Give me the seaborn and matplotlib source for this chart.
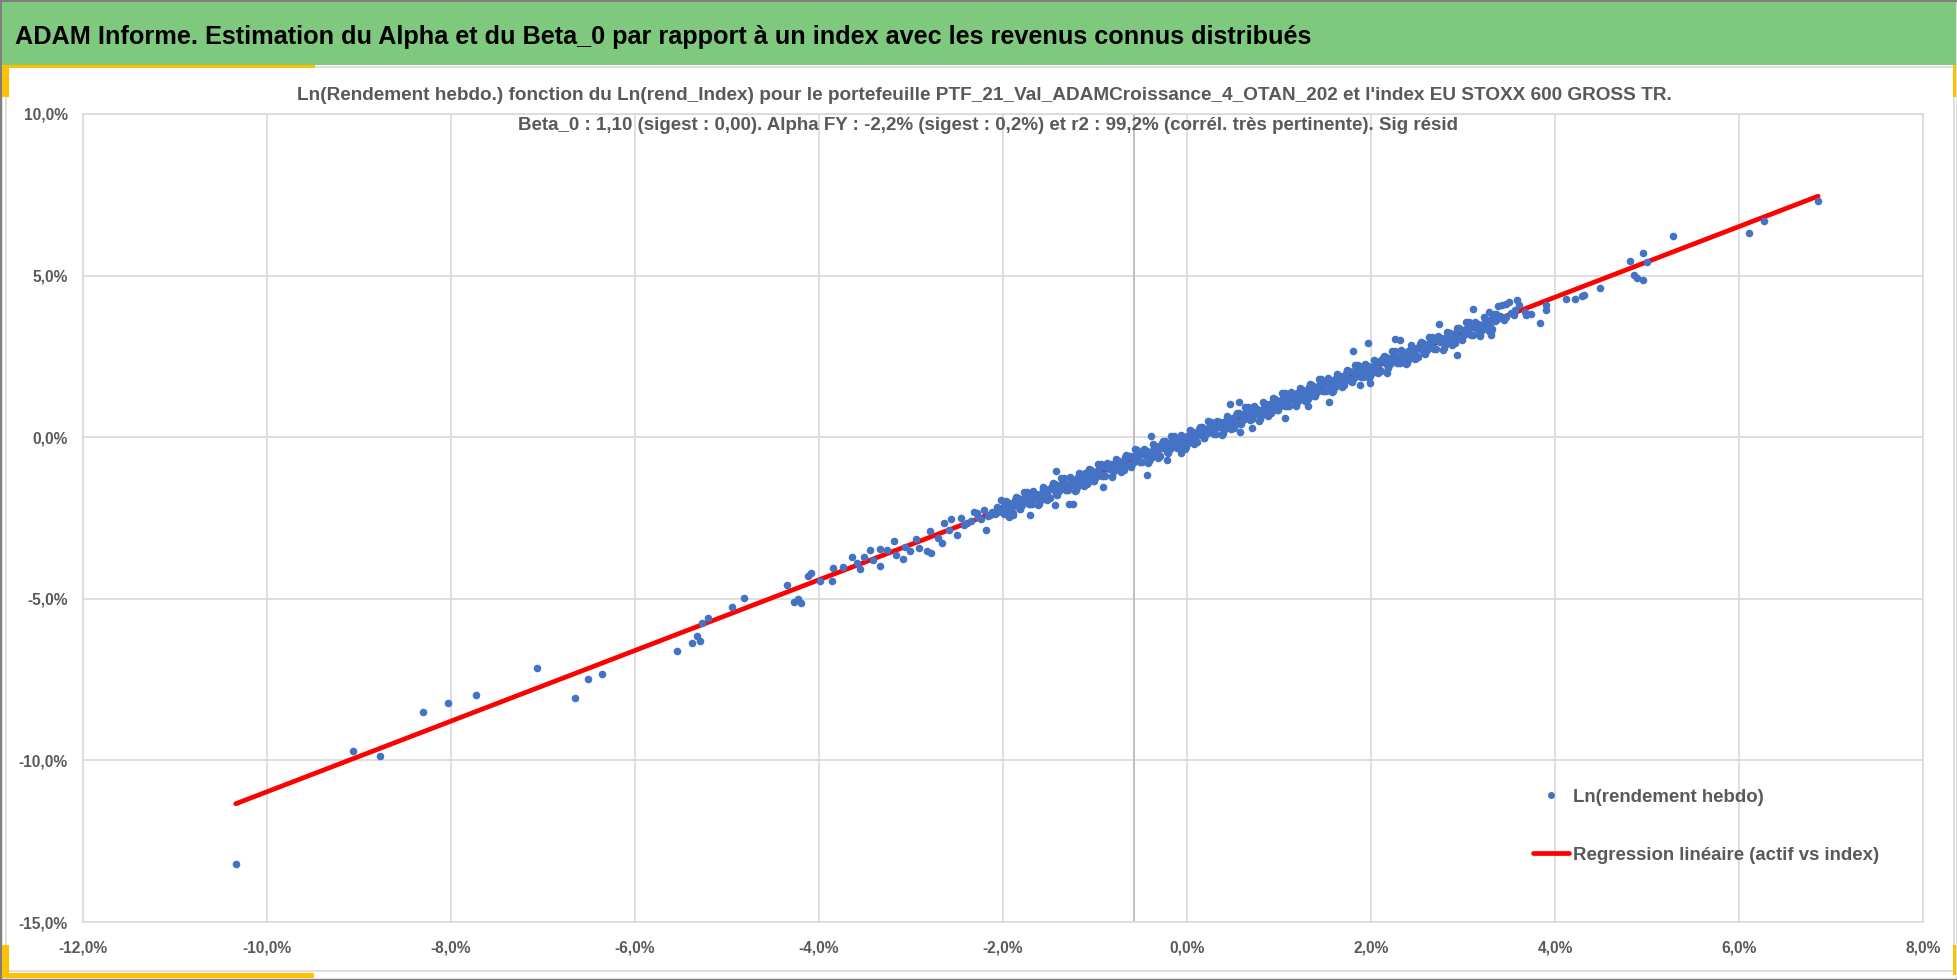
import matplotlib
matplotlib.use("Agg")
import matplotlib.pyplot as plt
import seaborn as sns
from matplotlib import font_manager
from matplotlib.patches import Rectangle
from matplotlib.lines import Line2D

# Rendements hebdo (en %) : index (x) et portefeuille (y), lus sur le graphique
# queue basse
index_bas = [-10.34, -9.07, -8.77, -8.30, -8.03, -7.73, -7.06, -6.65, -6.51, -6.36,
             -5.54, -5.38, -5.33, -5.29, -5.27, -5.21, -4.95, -4.82, -4.35, -4.27,
             -4.23, -4.20, -4.12, -4.09, -3.99, -3.86, -3.85, -3.74, -3.64, -3.59,
             -3.55, -3.51, -3.45, -3.41, -3.34, -3.34, -3.26, -3.18, -3.16, -3.09,
             -3.06, -3.01, -2.95, -2.91, -2.83, -2.78, -2.79, -2.71, -2.66, -2.64,
             -2.59, -2.56, -2.50, -2.46, -2.39, -2.32, -2.27, -2.21, -2.18, -2.14,
             -2.06, -2.02, -2.24, -2.12, -2.09, -2.35, -2.42, -2.28, -2.16, -2.05]
actif_bas = [-13.20, -9.70, -9.85, -8.49, -8.21, -7.99, -7.13, -8.06, -7.48, -7.33,
             -6.63, -6.36, -6.15, -6.32, -5.74, -5.60, -5.26, -4.99, -4.56, -5.10,
             -5.02, -5.12, -4.28, -4.20, -4.44, -4.44, -4.06, -4.02, -3.70, -3.89,
             -4.09, -3.70, -3.50, -3.80, -3.98, -3.46, -3.49, -3.20, -3.64, -3.78,
             -3.39, -3.52, -3.16, -3.42, -3.52, -3.57, -2.89, -3.13, -3.28, -2.66,
             -2.86, -2.53, -3.03, -2.50, -2.64, -2.31, -2.47, -2.26, -2.87, -2.41,
             -2.15, -1.95, -2.52, -2.30, -2.38, -2.60, -2.72, -2.36, -2.44, -2.32]

# coeur du nuage
index_coeur = [-2.00, -1.95, -1.90, -1.85, -1.80, -1.75, -1.70, -1.65, -1.60, -1.55,
               -1.50, -1.45, -1.40, -1.35, -1.30, -1.25, -1.20, -1.15, -1.10, -1.05,
               -1.00, -0.95, -0.90, -0.85, -0.80, -0.75, -0.70, -0.65, -0.60, -0.55,
               -0.50, -0.45, -0.40, -0.35, -0.30, -0.25, -0.20, -0.15, -0.10, -0.05,
               0.00, 0.05, 0.10, 0.15, 0.20, 0.25, 0.30, 0.35, 0.40, 0.45,
               0.50, 0.55, 0.60, 0.65, 0.70, 0.75, 0.80, 0.85, 0.90, 0.95,
               1.00, 1.05, 1.10, 1.15, 1.20, 1.25, 1.30, 1.35, 1.40, 1.45,
               1.50, 1.55, 1.60, 1.65, 1.70, 1.75, 1.80, 1.85, 1.90, 1.95,
               2.00, 2.05, 2.10, 2.15, 2.20, 2.25, 2.30, 2.35, 2.40, 2.45,
               2.50, 2.55, 2.60, 2.65, 2.70, 2.75, 2.80, 2.85, 2.90, 2.95,
               3.00, 3.05, 3.10, 3.15, 3.20, 3.25, 3.30, 3.35, 3.40]
actif_coeur = [-2.17, -2.22, -2.10, -2.14, -1.92, -1.97, -1.84, -1.89, -1.77, -1.81,
               -1.59, -1.64, -1.51, -1.57, -1.44, -1.49, -1.26, -1.32, -1.18, -1.24,
               -1.11, -1.16, -0.93, -0.99, -0.85, -0.91, -0.79, -0.83, -0.61, -0.66,
               -0.53, -0.58, -0.46, -0.50, -0.28, -0.33, -0.20, -0.25, -0.13, -0.17,
               0.05, -0.01, 0.13, 0.07, 0.20, 0.15, 0.38, 0.32, 0.46, 0.40,
               0.53, 0.48, 0.71, 0.65, 0.79, 0.73, 0.85, 0.81, 1.03, 0.98,
               1.11, 1.06, 1.18, 1.14, 1.36, 1.31, 1.44, 1.39, 1.51, 1.47,
               1.69, 1.63, 1.77, 1.71, 1.84, 1.79, 2.02, 1.96, 2.10, 2.04,
               2.17, 2.12, 2.35, 2.29, 2.43, 2.37, 2.49, 2.45, 2.67, 2.62,
               2.75, 2.70, 2.82, 2.78, 3.00, 2.95, 3.08, 3.03, 3.15, 3.10,
               3.33, 3.27, 3.41, 3.35, 3.48, 3.43, 3.66, 3.60, 3.74]

# bord du nuage
index_bande = [-1.97, -1.92, -1.87, -1.82, -1.77, -1.72, -1.67, -1.62, -1.57, -1.52,
               -1.47, -1.42, -1.37, -1.32, -1.27, -1.22, -1.17, -1.12, -1.07, -1.02,
               -0.97, -0.92, -0.87, -0.82, -0.77, -0.72, -0.67, -0.62, -0.57, -0.52,
               -0.47, -0.42, -0.37, -0.32, -0.27, -0.22, -0.17, -0.12, -0.07, -0.02,
               0.03, 0.08, 0.13, 0.18, 0.23, 0.28, 0.33, 0.38, 0.43, 0.48,
               0.53, 0.58, 0.63, 0.68, 0.73, 0.78, 0.83, 0.88, 0.93, 0.98,
               1.03, 1.08, 1.13, 1.18, 1.23, 1.28, 1.33, 1.38, 1.43, 1.48,
               1.53, 1.58, 1.63, 1.68, 1.73, 1.78, 1.83, 1.88, 1.93, 1.98,
               2.03, 2.08, 2.13, 2.18, 2.23, 2.28, 2.33, 2.38, 2.43, 2.48,
               2.53, 2.58, 2.63, 2.68, 2.73, 2.78, 2.83, 2.88, 2.93, 2.98,
               3.03, 3.08, 3.13, 3.18, 3.23, 3.28]
actif_bande = [-1.97, -2.39, -1.93, -2.21, -1.69, -2.06, -1.68, -2.11, -1.54, -1.95,
               -1.50, -1.77, -1.26, -1.62, -1.24, -1.67, -1.10, -1.51, -1.06, -1.34,
               -0.82, -1.19, -0.80, -1.24, -0.66, -1.08, -0.62, -0.90, -0.38, -0.75,
               -0.36, -0.80, -0.22, -0.64, -0.19, -0.46, 0.05, -0.31, 0.07, -0.36,
               0.21, -0.20, 0.25, -0.02, 0.49, 0.13, 0.51, 0.08, 0.65, 0.24,
               0.69, 0.41, 0.93, 0.56, 0.95, 0.51, 1.09, 0.67, 1.13, 0.85,
               1.37, 1.00, 1.39, 0.95, 1.52, 1.11, 1.56, 1.29, 1.80, 1.44,
               1.82, 1.39, 1.96, 1.55, 2.00, 1.73, 2.24, 1.88, 2.26, 1.82,
               2.40, 1.98, 2.44, 2.16, 2.68, 2.31, 2.70, 2.26, 2.84, 2.42,
               2.88, 2.60, 3.11, 2.75, 3.13, 2.70, 3.27, 2.86, 3.31, 3.04,
               3.55, 3.19, 3.57, 3.14, 3.71, 3.30]

index_dense_a = [-1.99, -1.94, -1.89, -1.84, -1.79, -1.74, -1.69, -1.64, -1.59, -1.54,
                 -1.49, -1.44, -1.39, -1.34, -1.29, -1.24, -1.19, -1.14, -1.09, -1.04,
                 -0.99, -0.94, -0.89, -0.84, -0.79, -0.74, -0.69, -0.64, -0.59, -0.54,
                 -0.49, -0.44, -0.39, -0.34, -0.29, -0.24, -0.19, -0.14, -0.09, -0.04,
                 0.01, 0.06, 0.11, 0.16, 0.21, 0.26, 0.31, 0.36, 0.41, 0.46,
                 0.51, 0.56, 0.61, 0.66, 0.71, 0.76, 0.81, 0.86, 0.91, 0.96,
                 1.01, 1.06, 1.11, 1.16, 1.21, 1.26, 1.31, 1.36, 1.41, 1.46,
                 1.51, 1.56, 1.61, 1.66, 1.71, 1.76, 1.81, 1.86, 1.91, 1.96,
                 2.01, 2.06, 2.11, 2.16, 2.21, 2.26, 2.31, 2.36, 2.41, 2.46,
                 2.51, 2.56, 2.61, 2.66, 2.71, 2.76, 2.81, 2.86, 2.91, 2.96,
                 3.01, 3.06, 3.11, 3.16, 3.21, 3.26, 3.31, 3.36]
actif_dense_a = [-2.38, -2.04, -2.33, -1.88, -2.10, -1.70, -2.08, -1.75, -1.94, -1.60,
                 -1.89, -1.44, -1.66, -1.27, -1.64, -1.32, -1.50, -1.17, -1.45, -1.01,
                 -1.22, -0.83, -1.20, -0.88, -1.06, -0.73, -1.01, -0.57, -0.79, -0.39,
                 -0.77, -0.44, -0.63, -0.29, -0.58, -0.13, -0.35, 0.05, -0.33, 0.00,
                 -0.19, 0.15, -0.14, 0.31, 0.09, 0.48, 0.11, 0.43, 0.25, 0.58,
                 0.30, 0.74, 0.53, 0.92, 0.55, 0.87, 0.69, 1.02, 0.74, 1.18,
                 0.96, 1.36, 0.98, 1.31, 1.12, 1.46, 1.17, 1.62, 1.40, 1.80,
                 1.42, 1.75, 1.56, 1.89, 1.61, 2.05, 1.84, 2.23, 1.86, 2.18,
                 2.00, 2.33, 2.05, 2.49, 2.28, 2.67, 2.30, 2.62, 2.43, 2.77,
                 2.48, 2.93, 2.71, 3.11, 2.73, 3.06, 2.87, 3.21, 2.92, 3.37,
                 3.15, 3.55, 3.17, 3.49, 3.31, 3.64, 3.36, 3.80]

index_dense_b = [-1.96, -1.91, -1.86, -1.81, -1.76, -1.71, -1.66, -1.61, -1.56, -1.51,
                 -1.46, -1.41, -1.36, -1.31, -1.26, -1.21, -1.16, -1.11, -1.06, -1.01,
                 -0.96, -0.91, -0.86, -0.81, -0.76, -0.71, -0.66, -0.61, -0.56, -0.51,
                 -0.46, -0.41, -0.36, -0.31, -0.26, -0.21, -0.16, -0.11, -0.06, -0.01,
                 0.04, 0.09, 0.14, 0.19, 0.24, 0.29, 0.34, 0.39, 0.44, 0.49,
                 0.54, 0.59, 0.64, 0.69, 0.74, 0.79, 0.84, 0.89, 0.94, 0.99,
                 1.04, 1.09, 1.14, 1.19, 1.24, 1.29, 1.34, 1.39, 1.44, 1.49,
                 1.54, 1.59, 1.64, 1.69, 1.74, 1.79, 1.84, 1.89, 1.94, 1.99,
                 2.04, 2.09, 2.14, 2.19, 2.24, 2.29, 2.34, 2.39, 2.44, 2.49,
                 2.54, 2.59, 2.64, 2.69, 2.74, 2.79, 2.84, 2.89, 2.94, 2.99,
                 3.04, 3.09, 3.14, 3.19, 3.24, 3.29, 3.34]
actif_dense_b = [-2.04, -2.26, -1.86, -2.23, -1.86, -2.08, -1.82, -2.06, -1.61, -1.82,
                 -1.43, -1.79, -1.43, -1.64, -1.39, -1.62, -1.17, -1.38, -0.99, -1.35,
                 -0.99, -1.20, -0.95, -1.19, -0.73, -0.95, -0.55, -0.92, -0.55, -0.77,
                 -0.51, -0.75, -0.29, -0.51, -0.11, -0.48, -0.12, -0.33, -0.08, -0.31,
                 0.14, -0.07, 0.32, -0.04, 0.32, 0.11, 0.36, 0.13, 0.58, 0.37,
                 0.76, 0.40, 0.76, 0.54, 0.80, 0.56, 1.02, 0.80, 1.20, 0.83,
                 1.20, 0.98, 1.24, 1.00, 1.46, 1.24, 1.64, 1.27, 1.63, 1.42,
                 1.67, 1.44, 1.89, 1.68, 2.07, 1.71, 2.07, 1.86, 2.11, 1.88,
                 2.33, 2.12, 2.51, 2.14, 2.51, 2.29, 2.55, 2.31, 2.77, 2.55,
                 2.95, 2.58, 2.95, 2.73, 2.99, 2.75, 3.20, 2.99, 3.38, 3.02,
                 3.38, 3.17, 3.42, 3.19, 3.64, 3.43, 3.82]

index_milieu = [-1.18, -1.11, -1.04, -0.97, -0.90, -0.83, -0.76, -0.69, -0.62, -0.55,
                -0.48, -0.41, -0.34, -0.27, -0.20, -0.13, -0.06, 0.01, 0.08, 0.15,
                0.22, 0.29, 0.36, 0.43, 0.50, 0.57, 0.64, 0.71, 0.78, 0.85,
                0.92, 0.99, 1.06, 1.13, 1.20, 1.27, 1.34, 1.41, 1.48, 1.55,
                1.62, 1.69, 1.76, 1.83, 1.90, 1.97, 2.04, 2.11, 2.18,
                -1.42, -0.91, -1.28, -1.24, -1.71, -1.44, -1.93, -1.89, -0.39, -0.43,
                -0.22, -0.06, 0.47, 0.57, 0.58, 0.71, 1.06, 1.31, 1.54, 1.80,
                1.97, 1.88, 1.99, 2.26, 2.32, 2.17, 2.37, 2.74, 2.93]
actif_milieu = [-1.45, -1.12, -1.22, -1.02, -1.17, -0.84, -0.87, -0.91, -0.59, -0.68,
                -0.48, -0.64, -0.30, -0.34, -0.38, -0.05, -0.15, 0.05, -0.10, 0.23,
                0.20, 0.16, 0.48, 0.39, 0.59, 0.43, 0.77, 0.74, 0.69, 1.02,
                0.93, 1.12, 0.97, 1.31, 1.27, 1.23, 1.55, 1.46, 1.66, 1.50,
                1.84, 1.81, 1.76, 2.09, 2.00, 2.19, 2.04, 2.38, 2.34,
                -1.05, -1.55, -2.07, -2.07, -2.41, -2.10, -2.46, -2.41, 0.05, -1.17,
                -0.71, -0.50, 1.03, 1.08, 0.17, 0.27, 0.58, 0.97, 1.10, 2.66,
                2.93, 1.62, 1.69, 3.05, 3.01, 1.98, 2.34, 3.51, 2.53]

# queue haute
index_haut = [3.11, 3.28, 3.30, 3.30, 3.38, 3.42, 3.47, 3.50, 3.59, 3.61,
              3.67, 3.68, 3.74, 3.84, 3.90, 3.90, 4.12, 4.22, 4.29, 4.32,
              4.49, 4.81, 4.86, 4.89, 4.96, 4.96, 5.00, 5.28, 6.11, 6.27,
              6.86, 3.39, 3.45, 3.47, 3.44, 3.52, 3.55, 3.36, 3.57]
actif_haut = [3.98, 3.88, 3.16, 3.26, 4.06, 4.09, 4.12, 4.19, 4.24, 4.09,
              3.88, 3.78, 3.81, 3.54, 4.09, 3.93, 4.29, 4.29, 4.37, 4.40,
              4.61, 5.46, 5.02, 4.92, 4.86, 5.69, 5.42, 6.24, 6.31, 6.70,
              7.32, 3.68, 3.62, 3.73, 3.70, 3.85, 3.79, 3.62, 3.95]

# droite de régression affichée
beta_reg = 1.093
alpha_reg = -0.04

x_ticks = [-12, -10, -8, -6, -4, -2, 0, 2, 4, 6, 8]
y_ticks = [-15, -10, -5, 0, 5, 10]

titre = "ADAM Informe. Estimation du Alpha et du Beta_0 par rapport à un index avec les revenus connus distribués"
sous_titre_1 = ("Ln(Rendement hebdo.) fonction du Ln(rend_Index) pour le portefeuille "
                "PTF_21_Val_ADAMCroissance_4_OTAN_202 et l'index EU STOXX 600 GROSS TR.")
sous_titre_2 = ("Beta_0 : 1,10 (sigest : 0,00). Alpha FY : -2,2% (sigest : 0,2%) et r2 : 99,2% "
                "(corrél. très pertinente). Sig résid")

rend_index = index_bas + index_coeur + index_bande + index_dense_a + index_dense_b + index_milieu + index_haut
rend_actif = actif_bas + actif_coeur + actif_bande + actif_dense_a + actif_dense_b + actif_milieu + actif_haut

sns.set_style("white")
police = "Liberation Sans"
for nom in ["Liberation Sans Narrow", "Liberation Sans"]:
    try:
        font_manager.findfont(nom, fallback_to_default=False)
        police = nom
        break
    except Exception:
        pass
plt.rcParams["font.family"] = [police, "DejaVu Sans"]
plt.rcParams["font.weight"] = "bold"

W, H = 1958, 980
fig = plt.figure(figsize=(W / 100, H / 100), dpi=100)


def fx(px):
    return px / W


def fy(py):
    return 1 - py / H


gris_txt = "#595959"
gris_grille = "#d9d9d9"

# cadre, bandeau vert et poignées jaunes
fig.patches.append(Rectangle((0, 0), 1, 1, transform=fig.transFigure, fill=False,
                             edgecolor="#7f7f7f", linewidth=2.5))
fig.patches.append(Rectangle((fx(2), fy(65)), fx(1954), 63 / H, transform=fig.transFigure,
                             facecolor="#7fc97f", edgecolor="none"))
fig.patches.append(Rectangle((fx(6), fy(971)), fx(1948), 904 / H, transform=fig.transFigure,
                             fill=False, edgecolor=gris_grille, linewidth=1.2))
jaune = "#ffc000"
for (x0, y0, w, h) in [(2, 65, 313, 3), (2, 65, 7, 32), (2, 973, 312, 5), (2, 945, 7, 33),
                       (1953, 65, 3, 32), (1953, 945, 3, 30)]:
    fig.patches.append(Rectangle((fx(x0), fy(y0 + h)), fx(w), h / H, transform=fig.transFigure,
                                 facecolor=jaune, edgecolor="none"))

fig.text(fx(15), fy(37), titre, ha="left", va="center", fontsize=18.2, color="black")
fig.text(fx(984), fy(95), sous_titre_1, ha="center", va="center", fontsize=13.7, color=gris_txt)
fig.text(fx(988), fy(125), sous_titre_2, ha="center", va="center", fontsize=13.5, color=gris_txt)

ax = fig.add_axes([fx(83), fy(922), fx(1923 - 83), (922 - 114) / H])
ax.set_xlim(-12, 8)
ax.set_ylim(-15, 10)
ax.set_xticks(x_ticks)
ax.set_yticks(y_ticks)
ax.set_xticklabels([f"{v:.1f}%".replace(".", ",") for v in x_ticks])
ax.set_yticklabels([f"{v:.1f}%".replace(".", ",") for v in y_ticks])
ax.tick_params(axis="x", length=0, pad=13, labelsize=11.2, labelcolor=gris_txt)
ax.tick_params(axis="y", length=0, pad=11, labelsize=11.2, labelcolor=gris_txt)
ax.grid(True, color=gris_grille, linewidth=1.2)
ax.set_axisbelow(True)
for s in ax.spines.values():
    s.set_color(gris_grille)
    s.set_linewidth(1.2)
ax.axvline(-0.58, color="#bfbfbf", linewidth=1.4, zorder=1)

x_min, x_max = min(rend_index), max(rend_index)
ax.plot([x_min, x_max], [beta_reg * x_min + alpha_reg, beta_reg * x_max + alpha_reg],
        color="#ff0000", linewidth=3.4, solid_capstyle="round", zorder=2)
sns.scatterplot(x=rend_index, y=rend_actif, ax=ax, color="#4472c4", s=30, linewidth=0, zorder=3)

poignees = [Line2D([], [], linestyle="none", marker="o", markersize=4, color="#4472c4"),
            Line2D([], [], color="#ff0000", linewidth=3.4)]
ax.legend(poignees, ["Ln(rendement hebdo)", "Regression linéaire (actif vs index)"],
          loc="center left", bbox_to_anchor=(fx(1533), fy(826)),
          bbox_transform=fig.transFigure, frameon=False, fontsize=13.4, labelcolor=gris_txt,
          handlelength=1.95, handletextpad=0.2, labelspacing=2.2, borderpad=0, borderaxespad=0)

fig.savefig("out.png", dpi=100)
